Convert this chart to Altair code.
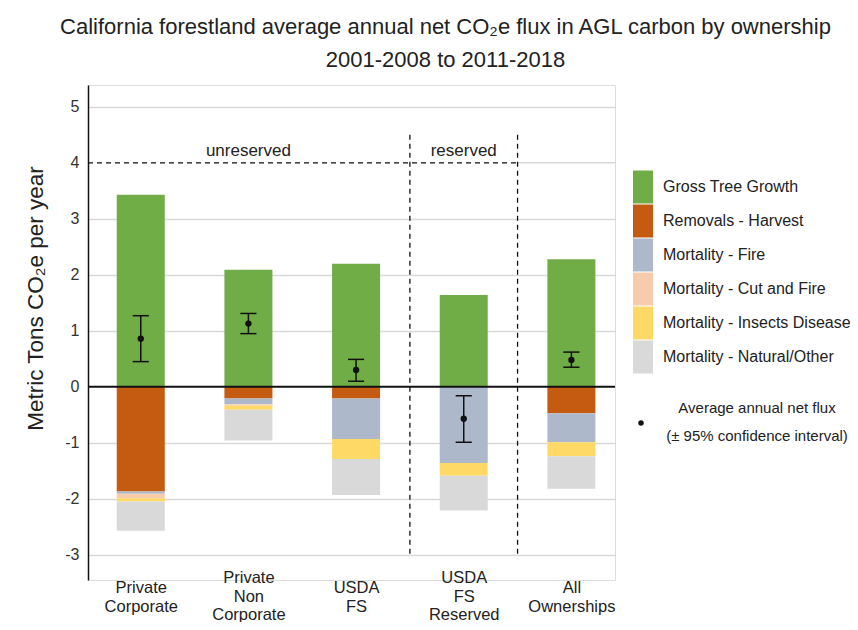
import json
import altair as alt
import pandas as pd

# ---------------- data ----------------
categories = ["Private Corporate", "Private Non Corporate", "USDA FS", "USDA FS Reserved", "All Ownerships"]
components = ["Gross Tree Growth", "Removals - Harvest", "Mortality - Fire",
              "Mortality - Cut and Fire", "Mortality - Insects Disease", "Mortality - Natural/Other"]
colors = ["#70AD47", "#C55A11", "#ADB9CA", "#F8CBAD", "#FFD966", "#D9D9D9"]

gross_growth = [3.43, 2.09, 2.20, 1.64, 2.28]
removals_harvest = [-1.87, -0.21, -0.21, 0.00, -0.47]
mortality_fire = [-0.04, -0.10, -0.72, -1.36, -0.52]
mortality_cut_fire = [-0.08, -0.03, 0.00, 0.00, 0.00]
mortality_insects = [-0.06, -0.07, -0.36, -0.23, -0.25]
mortality_natural = [-0.52, -0.55, -0.64, -0.62, -0.58]

net_flux = [0.86, 1.13, 0.30, -0.57, 0.48]
ci_low = [0.45, 0.95, 0.10, -0.99, 0.35]
ci_high = [1.27, 1.31, 0.49, -0.16, 0.62]

group_labels = ["unreserved", "reserved"]
group_label_pos = [1, 3]          # category index under which each group label sits
group_dividers = [2.5, 3.5]       # boundaries between groups (category index units)

# ---------------- build tables ----------------
BAR_HALF = 0.223
CAP_HALF = 0.075
series = [gross_growth, removals_harvest, mortality_fire, mortality_cut_fire,
          mortality_insects, mortality_natural]

rows = []
for i, cat in enumerate(categories):
    neg = 0.0
    for comp, vals in zip(components, series):
        v = vals[i]
        if v == 0:
            continue
        if v > 0:
            y0, y1 = 0.0, v
        else:
            y0, y1 = neg, neg + v
            neg += v
        rows.append({"idx": i, "category": cat, "component": comp, "y0": y0, "y1": y1,
                     "left": i - BAR_HALF, "right": i + BAR_HALF})
bars_df = pd.DataFrame(rows)

err_df = pd.DataFrame({"idx": list(range(len(categories))), "category": categories,
                       "mean": net_flux, "lo": ci_low, "hi": ci_high})

X_MIN, X_MAX = -0.49, 4.405
Y_MIN, Y_MAX = -3.45, 5.39

xscale = alt.Scale(domain=[X_MIN, X_MAX], nice=False, zero=False)
yscale = alt.Scale(domain=[Y_MIN, Y_MAX], nice=False, zero=False)

FONT = "Liberation Sans"
cats_js = json.dumps(categories)
label_expr = "split(" + cats_js + "[datum.value], ' ')"

xaxis = alt.Axis(values=list(range(len(categories))), labelExpr=label_expr, domain=False,
                 ticks=False, tickSize=0, grid=False, labelFontSize=16.5, labelLineHeight=18.5,
                 labelBaseline="middle",
                 labelPadding={"condition": {"test": "length(split(" + cats_js + "[datum.value], ' ')) > 2",
                                             "value": -2.5}, "value": 7.5},
                 labelColor="#222", labelFlush=False,
                 labelOverlap=False, labelFont=FONT)

yaxis = alt.Axis(values=list(range(-3, 6)), labelExpr="'' + datum.value", grid=True,
                 gridColor="#D9D9D9", gridWidth=1.5,
                 gridOpacity={"condition": {"test": "datum.value === 0 || datum.value === 4", "value": 0}, "value": 1},
                 domainColor="#111", domainWidth=1.5, ticks=False, tickSize=0,
                 labelFontSize=16, labelPadding=9, labelColor="#333", labelFont=FONT,
                 titleFontSize=22.5, titleFontWeight="normal", titleFont=FONT, titleColor="#222",
                 titleX=-53, titleY=213, titleAngle=270, titleAlign="center", titleBaseline="middle")

legend_symbol = "M-0.59,-0.97H0.59V0.97H-0.59Z"

bars = alt.Chart(bars_df).mark_rect().encode(
    x=alt.X("left:Q", scale=xscale, axis=xaxis, title=None),
    x2="right:Q",
    y=alt.Y("y0:Q", scale=yscale, axis=yaxis, title="Metric Tons CO₂e per year"),
    y2="y1:Q",
    color=alt.Color("component:N", scale=alt.Scale(domain=components, range=colors),
                    legend=alt.Legend(title=None, orient="none", legendX=538, legendY=85,
                                      symbolType=legend_symbol, symbolSize=1156,
                                      symbolStrokeWidth=0, symbolOpacity=1,
                                      labelFontSize=16, labelOffset=3, rowPadding=0, padding=0,
                                      labelColor="#222", labelFont=FONT, labelLimit=300)),
)

# gray gridline continuation at y=4 to the right of the dashed segment
grid4_df = pd.DataFrame({"x": [group_dividers[-1]], "x2": [X_MAX], "y": [4]})
grid4 = alt.Chart(grid4_df).mark_rule(color="#D9D9D9", strokeWidth=1.5).encode(
    x="x:Q", x2="x2:Q", y="y:Q")

zero_df = pd.DataFrame({"y": [0]})
zero_line = alt.Chart(zero_df).mark_rule(color="#111", strokeWidth=2).encode(y="y:Q")

hdash_df = pd.DataFrame({"x": [X_MIN], "x2": [group_dividers[-1]], "y": [4]})
hdash = alt.Chart(hdash_df).mark_rule(color="#111", strokeWidth=1.3, strokeDash=[5, 4]).encode(
    x="x:Q", x2="x2:Q", y="y:Q")

vdash_df = pd.DataFrame({"x": group_dividers, "y": [4.5, 4.5], "y2": [-3.0, -3.0]})
vdash = alt.Chart(vdash_df).mark_rule(color="#111", strokeWidth=1.3, strokeDash=[5, 4]).encode(
    x="x:Q", y="y:Q", y2="y2:Q")

glabel_df = pd.DataFrame({"x": group_label_pos, "y": [4.22, 4.22], "t": group_labels})
glabels = alt.Chart(glabel_df).mark_text(fontSize=17, font=FONT, color="#222", baseline="middle").encode(
    x="x:Q", y="y:Q", text="t:N")

err_base = alt.Chart(err_df)
err_v = err_base.mark_rule(color="#111", strokeWidth=1.5).encode(x="idx:Q", y="lo:Q", y2="hi:Q")
err_lo = err_base.transform_calculate(a=f"datum.idx - {CAP_HALF}", b=f"datum.idx + {CAP_HALF}").mark_rule(
    color="#111", strokeWidth=1.5).encode(x="a:Q", x2="b:Q", y="lo:Q")
err_hi = err_base.transform_calculate(a=f"datum.idx - {CAP_HALF}", b=f"datum.idx + {CAP_HALF}").mark_rule(
    color="#111", strokeWidth=1.5).encode(x="a:Q", x2="b:Q", y="hi:Q")
err_pt = err_base.mark_point(filled=True, color="#111", size=40, opacity=1).encode(x="idx:Q", y="mean:Q")

one = pd.DataFrame({"a": [0]})
leg_dot = alt.Chart(one).mark_point(filled=True, color="#111", size=30, opacity=1).encode(
    x=alt.value(553), y=alt.value(338))
leg_text = alt.Chart(one).mark_text(
    text=["Average annual net flux", "(± 95% confidence interval)"], lineHeight=28,
    fontSize=15, font=FONT, color="#222", align="center", baseline="middle").encode(
    x=alt.value(669), y=alt.value(323))

chart = alt.layer(bars, grid4, zero_line, hdash, vdash, glabels, err_v, err_lo, err_hi, err_pt,
                  leg_dot, leg_text).properties(
    width=527, height=495,
    autosize=alt.AutoSizeParams(type="none"),
    padding={"left": 80, "top": 77, "right": 235, "bottom": 42},
    title=alt.TitleParams(
        text=["California forestland average annual net CO₂e flux in AGL carbon by ownership",
              "2001-2008 to 2011-2018"],
        fontSize=22, font=FONT, fontWeight="normal", color="#222", anchor="middle",
        dx=94, offset=13, lineHeight=33),
).configure_view(stroke=None).configure(background="white")

chart.save("out.html", embed_options={"renderer": "svg", "actions": False})
